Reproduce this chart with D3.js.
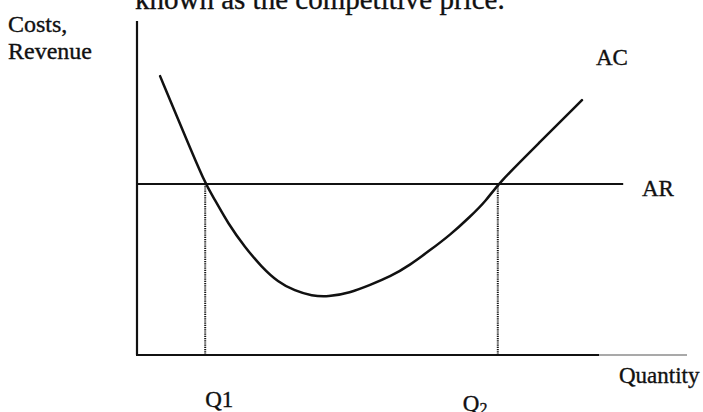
<!DOCTYPE html>
<html>
<head>
<meta charset="utf-8">
<script src="https://cdn.jsdelivr.net/npm/d3@7"></script>
<style>
  body { margin: 0; background: #fff; }
  text { font-family: "Liberation Serif", "Times New Roman", serif; fill: #111; stroke: #111; stroke-width: 0.35px; }
</style>
</head>
<body>
<div id="vis"></div>
<script>
// average cost curve (quantity, cost)
const acQuantity = [4.2, 8.2, 12.4, 14.2, 16.5, 19.6, 22.7, 25.6, 28.7, 31.8, 34.7, 38.7, 42.4, 46.0, 49.6, 53.3, 56.9, 60.5, 63.6, 65.6, 73.3, 80.9];
const acCost = [83.5, 67.7, 51.2, 46.4, 39.5, 32.3, 26.3, 21.9, 19.2, 17.7, 17.4, 18.6, 21.0, 23.4, 26.9, 31.4, 35.9, 41.3, 46.4, 51.2, 63.8, 76.3];
// average revenue (flat, the competitive price)
const arValue = 51.2;
const arEnd = 88.4;
// quantities where AC = AR
const qValues = [12.4, 65.6];
const qLabels = ["Q1", "Q2"];

const width = 703, height = 412;
const margin = { top: 21, right: 16, bottom: 57, left: 137 };

const svg = d3.select("#vis")
  .append("svg")
  .attr("width", width)
  .attr("height", height);

const x = d3.scaleLinear()
  .domain([0, 100])
  .range([margin.left, width - margin.right]);

const y = d3.scaleLinear()
  .domain([0, 100])
  .range([height - margin.bottom, margin.top]);

// title line, cut off at the top of the page
svg.append("text")
  .attr("x", 135)
  .attr("y", 9)
  .style("font-size", "29px")
  .text("known as the competitive price.");

// axes
svg.append("line")
  .attr("x1", x(0)).attr("x2", x(0))
  .attr("y1", y(0)).attr("y2", y(100))
  .attr("stroke", "#111").attr("stroke-width", 2.2);

svg.append("line")
  .attr("x1", x(0) - 1).attr("x2", x(84))
  .attr("y1", y(0)).attr("y2", y(0))
  .attr("stroke", "#111").attr("stroke-width", 2.2);

svg.append("line")
  .attr("x1", x(84)).attr("x2", x(100))
  .attr("y1", y(0)).attr("y2", y(0))
  .attr("stroke", "#555").attr("stroke-width", 1.2);

// dotted drop lines
svg.selectAll(".drop")
  .data(qValues)
  .enter()
  .append("line")
  .attr("class", "drop")
  .attr("x1", d => x(d)).attr("x2", d => x(d))
  .attr("y1", y(arValue)).attr("y2", y(0))
  .attr("stroke", "#111")
  .attr("stroke-width", 2)
  .attr("stroke-dasharray", "1.2,1");

// AR line
svg.append("line")
  .attr("x1", x(0)).attr("x2", x(arEnd))
  .attr("y1", y(arValue)).attr("y2", y(arValue))
  .attr("stroke", "#111").attr("stroke-width", 2.2);

// AC curve, smoothed through the read-off points
const line = d3.line()
  .x(d => x(d[0]))
  .y(d => y(d[1]))
  .curve(d3.curveBasis);

svg.append("path")
  .datum(d3.zip(acQuantity, acCost))
  .attr("fill", "none")
  .attr("stroke", "#111")
  .attr("stroke-width", 2.5)
  .attr("stroke-linecap", "round")
  .attr("d", line);

// labels
const yLabel = svg.append("text")
  .attr("x", 8)
  .style("font-size", "24px");
yLabel.append("tspan").attr("x", 8).attr("y", 32).text("Costs,");
yLabel.append("tspan").attr("x", 8).attr("y", 59).text("Revenue");

svg.append("text")
  .attr("x", 596).attr("y", 65)
  .style("font-size", "23px")
  .text("AC");

svg.append("text")
  .attr("x", 642).attr("y", 196)
  .style("font-size", "23px")
  .text("AR");

svg.append("text")
  .attr("x", 619).attr("y", 383)
  .style("font-size", "23px")
  .text("Quantity");

svg.append("text")
  .attr("x", x(qValues[0]))
  .attr("y", 407)
  .style("font-size", "23px")
  .text(qLabels[0]);

const q2 = svg.append("text")
  .attr("x", x(qValues[1]) - 35)
  .attr("y", 411)
  .style("font-size", "23px");
q2.append("tspan").text(qLabels[1].charAt(0));
q2.append("tspan").attr("dy", 3).style("font-size", "16px").text(qLabels[1].slice(1));
</script>
</body>
</html>
